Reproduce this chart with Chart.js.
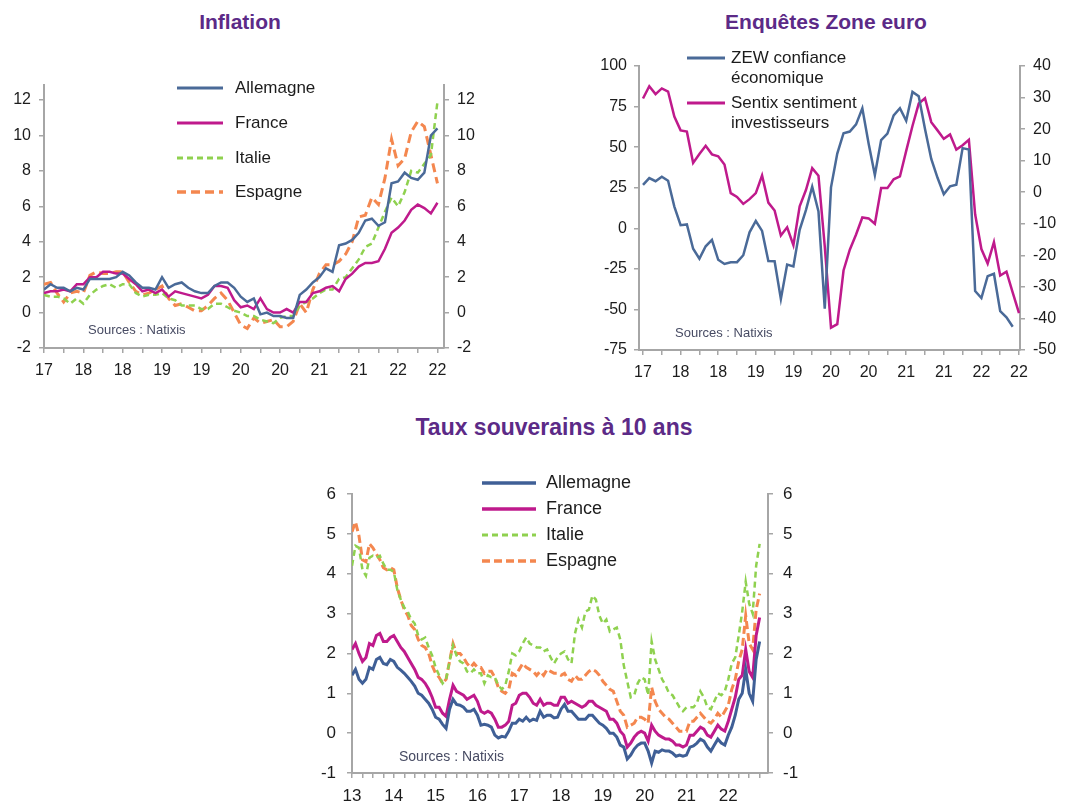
<!DOCTYPE html>
<html lang="fr">
<head>
<meta charset="UTF-8">
<title>Inflation, enquêtes et taux souverains</title>
<script src="https://cdn.jsdelivr.net/npm/chart.js@4.4.0/dist/chart.umd.min.js"></script>
<style>
  body { margin: 0; background: #fff; font-family: 'Liberation Sans', Arial, sans-serif; }
  #page { position: relative; width: 1083px; height: 803px; overflow: hidden; }
  .box { position: absolute; }
  .box canvas { position: absolute; left: 0; top: 0; }
  .title { position: absolute; font-weight: bold; color: #5c2a87; white-space: nowrap; transform: translateX(-50%); }
  .leg { position: absolute; color: #1c1c1c; }
  .leg svg { position: absolute; overflow: visible; }
  .leg span { position: absolute; }
  .src { position: absolute; color: #474b63; white-space: nowrap; }
</style>
</head>
<body>
<div id="page">
  <div class="title" style="left:240px; top:10px; font-size:21px;">Inflation</div>
  <div class="title" style="left:826px; top:10px; font-size:21px;">Enquêtes Zone euro</div>
  <div class="title" style="left:554px; top:414px; font-size:23px;">Taux souverains à 10 ans</div>

  <div class="box" style="left:0; top:0;"><canvas id="inflation" width="540" height="390"></canvas></div>
  <div class="box" style="left:540px; top:0;"><canvas id="enquetes" width="543" height="390"></canvas></div>
  <div class="box" style="left:300px; top:410px;"><canvas id="taux" width="500" height="393"></canvas></div>

  <div class="src" style="left:88px; top:322px; font-size:13px;">Sources : Natixis</div>
  <div class="src" style="left:675px; top:325px; font-size:13px;">Sources : Natixis</div>
  <div class="src" style="left:399px; top:748px; font-size:14px;">Sources : Natixis</div>

  <div id="leg1"></div>
  <div id="leg2"></div>
  <div id="leg3"></div>
</div>

<script>
// ---- Inflation, monthly, Oct 2017 -> Oct 2022 (%)
const inflTickLabels = ['17', '18', '18', '19', '19', '20', '20', '21', '21', '22', '22'];
const inflNames = ['Allemagne', 'France', 'Italie', 'Espagne'];
const inflAllemagne = [1.3, 1.6, 1.4, 1.4, 1.2, 1.4, 1.3, 1.9, 1.9, 1.9,
  1.9, 2.0, 2.3, 2.1, 1.7, 1.4, 1.4, 1.3, 2.0, 1.4,
  1.6, 1.7, 1.4, 1.2, 1.1, 1.1, 1.5, 1.7, 1.7, 1.4,
  0.9, 0.6, 0.8, -0.1, 0.0, -0.2, -0.2, -0.3, -0.3, 1.0,
  1.3, 1.7, 2.0, 2.5, 2.3, 3.8, 3.9, 4.1, 4.5, 5.2,
  5.3, 4.9, 5.1, 7.3, 7.4, 7.9, 7.6, 7.5, 7.9, 10.0, 10.4];
const inflFrance = [1.1, 1.2, 1.2, 1.3, 1.2, 1.6, 1.6, 2.0, 2.0, 2.3,
  2.3, 2.2, 2.2, 1.9, 1.6, 1.2, 1.3, 1.1, 1.3, 0.9,
  1.2, 1.1, 1.0, 0.9, 0.8, 1.0, 1.5, 1.5, 1.4, 0.7,
  0.3, 0.4, 0.2, 0.8, 0.2, 0.0, 0.0, 0.2, 0.0, 0.6,
  0.6, 1.1, 1.2, 1.4, 1.5, 1.2, 1.9, 2.2, 2.6, 2.8,
  2.8, 2.9, 3.6, 4.5, 4.8, 5.2, 5.8, 6.1, 5.9, 5.6, 6.2];
const inflItalie = [1.0, 0.9, 0.9, 0.8, 0.5, 0.8, 0.5, 1.0, 1.3, 1.5,
  1.6, 1.4, 1.6, 1.6, 1.1, 0.9, 1.0, 1.0, 1.1, 0.8,
  0.7, 0.4, 0.4, 0.4, 0.2, 0.2, 0.5, 0.5, 0.3, 0.1,
  0.0, -0.2, -0.2, -0.4, -0.5, -0.6, -0.3, -0.2, -0.2, 0.4,
  0.6, 0.8, 1.1, 1.3, 1.3, 1.9, 2.0, 2.5, 3.0, 3.7,
  3.9, 4.8, 5.7, 6.5, 6.0, 6.8, 8.0, 7.9, 8.4, 8.9, 11.9];
const inflEspagne = [1.6, 1.7, 1.1, 0.6, 1.1, 1.2, 1.1, 2.1, 2.3, 2.2,
  2.2, 2.3, 2.3, 1.7, 1.2, 1.0, 1.1, 1.3, 1.5, 0.8,
  0.4, 0.5, 0.3, 0.1, 0.1, 0.4, 0.8, 1.1, 0.7, 0.0,
  -0.7, -0.9, -0.3, -0.6, -0.5, -0.4, -0.8, -0.8, -0.5, 0.5,
  0.0, 1.3, 2.2, 2.7, 2.7, 2.9, 3.3, 4.0, 5.4, 5.5,
  6.5, 6.1, 7.6, 9.8, 8.3, 8.7, 10.2, 10.8, 10.5, 8.9, 7.3];

// ---- Enquêtes zone euro, monthly, Oct 2017 -> Oct 2022
const enqTickLabels = ['17', '18', '18', '19', '19', '20', '20', '21', '21', '22', '22'];
const enqNames = ['ZEW confiance économique', 'Sentix sentiment investisseurs'];
const zew = [26.7, 30.9, 29.0, 31.8, 29.3, 13.4, 1.9, 2.4, -12.6, -18.7,
  -11.1, -7.2, -19.4, -22.0, -21.0, -20.9, -16.6, -2.5, 4.5, -1.6,
  -20.2, -20.3, -43.6, -22.4, -23.5, -1.0, 11.2, 25.6, 10.4, -49.5,
  25.2, 46.0, 58.6, 59.6, 64.0, 73.9, 52.3, 32.8, 54.4, 58.3,
  69.6, 74.0, 66.3, 84.0, 81.3, 61.2, 42.7, 31.1, 21.0, 25.9,
  26.8, 49.4, 48.6, -38.7, -43.0, -29.5, -28.0, -51.1, -54.9, -60.7, null];
const sentix = [29.7, 33.6, 31.1, 32.9, 31.9, 24.0, 19.6, 19.2, 9.3, 12.1,
  14.7, 12.0, 11.4, 8.8, -0.3, -1.5, -3.7, -2.2, -0.3, 5.3,
  -3.3, -5.8, -13.7, -11.1, -16.8, -4.5, 0.7, 7.6, 5.2, -17.1,
  -42.9, -41.8, -24.8, -18.2, -13.4, -8.0, -8.3, -10.0, 1.3, 1.3,
  4.1, 5.0, 13.1, 21.0, 28.1, 29.8, 22.2, 19.6, 16.9, 18.3,
  13.5, 14.9, 16.6, -7.0, -18.0, -22.6, -15.8, -26.4, -25.2, -31.8, -38.3];

// ---- Taux 10 ans, monthly, Jan 2013 -> Oct 2022 (%)
const tauxTickLabels = ['13', '14', '15', '16', '17', '18', '19', '20', '21', '22'];
const tauxNames = ['Allemagne', 'France', 'Italie', 'Espagne'];
const tauxAllemagne = [
  1.45, 1.60, 1.35, 1.25, 1.35, 1.65, 1.60, 1.85, 1.90, 1.75, 1.72, 1.85,
  1.80, 1.65, 1.58, 1.50, 1.40, 1.30, 1.18, 1.00, 0.95, 0.85, 0.75, 0.60,
  0.40, 0.35, 0.22, 0.12, 0.60, 0.85, 0.72, 0.70, 0.65, 0.55, 0.55, 0.60,
  0.45, 0.20, 0.22, 0.20, 0.15, -0.05, -0.12, -0.08, -0.10, 0.05, 0.25, 0.25,
  0.35, 0.30, 0.40, 0.30, 0.35, 0.32, 0.55, 0.40, 0.45, 0.45, 0.38, 0.40,
  0.60, 0.72, 0.55, 0.55, 0.45, 0.35, 0.35, 0.35, 0.45, 0.45, 0.35, 0.25,
  0.20, 0.12, 0.00, 0.00, -0.10, -0.30, -0.35, -0.65, -0.55, -0.40, -0.30, -0.25,
  -0.25, -0.45, -0.75, -0.45, -0.48, -0.42, -0.45, -0.45, -0.50, -0.58, -0.55, -0.58,
  -0.55, -0.35, -0.32, -0.25, -0.15, -0.20, -0.35, -0.45, -0.30, -0.15, -0.25, -0.30,
  -0.05, 0.15, 0.45, 0.85, 1.00, 1.60, 1.00, 0.80, 1.85, 2.30];
const tauxFrance = [
  2.10, 2.25, 2.00, 1.80, 1.90, 2.25, 2.20, 2.45, 2.50, 2.30, 2.30, 2.40,
  2.45, 2.30, 2.15, 2.05, 1.90, 1.75, 1.60, 1.40, 1.35, 1.25, 1.10, 0.90,
  0.65, 0.65, 0.50, 0.42, 0.85, 1.20, 1.05, 1.00, 0.95, 0.85, 0.90, 0.95,
  0.80, 0.55, 0.50, 0.55, 0.50, 0.35, 0.15, 0.15, 0.20, 0.30, 0.70, 0.75,
  0.95, 1.00, 1.00, 0.90, 0.75, 0.70, 0.85, 0.70, 0.75, 0.75, 0.70, 0.70,
  0.90, 0.90, 0.75, 0.80, 0.75, 0.70, 0.65, 0.70, 0.80, 0.80, 0.70, 0.65,
  0.60, 0.55, 0.35, 0.35, 0.25, 0.05, -0.05, -0.35, -0.25, -0.10, 0.00, 0.05,
  0.00, -0.20, 0.20, 0.05, -0.05, -0.10, -0.15, -0.15, -0.20, -0.30, -0.30, -0.35,
  -0.30, -0.05, -0.05, 0.05, 0.15, 0.10, -0.05, -0.10, 0.05, 0.20, 0.10, 0.05,
  0.30, 0.60, 0.90, 1.35, 1.45, 2.10, 1.55, 1.40, 2.45, 2.90];
const tauxItalie = [
  4.20, 4.70, 4.65, 4.10, 3.95, 4.40, 4.45, 4.40, 4.45, 4.25, 4.10, 4.10,
  4.05, 3.60, 3.35, 3.15, 3.05, 2.85, 2.75, 2.45, 2.35, 2.40, 2.15, 1.95,
  1.65, 1.45, 1.25, 1.35, 1.80, 2.20, 1.95, 1.80, 1.75, 1.55, 1.50, 1.60,
  1.50, 1.50, 1.25, 1.45, 1.40, 1.40, 1.20, 1.10, 1.20, 1.55, 2.00, 1.95,
  2.05, 2.25, 2.40, 2.25, 2.20, 2.15, 2.15, 2.05, 2.10, 1.90, 1.75, 1.90,
  2.00, 2.05, 1.85, 1.75, 2.50, 2.85, 2.65, 3.05, 3.10, 3.45, 3.35, 2.95,
  2.75, 2.85, 2.55, 2.60, 2.65, 2.35, 1.70, 1.30, 0.90, 0.95, 1.25, 1.40,
  1.35, 0.95, 2.30, 1.85, 1.60, 1.35, 1.20, 1.00, 0.95, 0.80, 0.65, 0.55,
  0.65, 0.65, 0.65, 0.75, 1.05, 0.90, 0.65, 0.60, 0.80, 1.00, 0.95, 1.05,
  1.35, 1.75, 1.90, 2.45, 3.05, 3.80, 3.25, 3.00, 4.20, 4.75];
const tauxEspagne = [
  5.05, 5.30, 4.95, 4.35, 4.30, 4.75, 4.65, 4.50, 4.35, 4.15, 4.10, 4.15,
  4.10, 3.65, 3.35, 3.10, 2.95, 2.70, 2.60, 2.35, 2.20, 2.15, 2.00, 1.70,
  1.50, 1.40, 1.25, 1.35, 1.80, 2.25, 2.00, 2.00, 1.90, 1.75, 1.65, 1.75,
  1.65, 1.65, 1.50, 1.55, 1.55, 1.40, 1.15, 1.05, 1.00, 1.10, 1.50, 1.45,
  1.60, 1.75, 1.65, 1.60, 1.55, 1.45, 1.55, 1.45, 1.60, 1.55, 1.50, 1.50,
  1.45, 1.50, 1.35, 1.30, 1.45, 1.35, 1.35, 1.45, 1.55, 1.60, 1.55, 1.45,
  1.30, 1.20, 1.10, 1.05, 0.80, 0.55, 0.45, 0.15, 0.20, 0.25, 0.40, 0.40,
  0.35, 0.25, 1.15, 0.80, 0.60, 0.50, 0.40, 0.35, 0.25, 0.15, 0.05, 0.05,
  0.05, 0.30, 0.30, 0.40, 0.50, 0.40, 0.30, 0.25, 0.35, 0.50, 0.40, 0.55,
  0.70, 1.10, 1.35, 1.80, 2.10, 2.95, 2.25, 2.10, 3.10, 3.50];

const FONT = "'Liberation Sans', Arial, sans-serif";
const AXIS = '#a6a6a6';
const BLUE = '#4a6a98', MAGENTA = '#bf1a8c', GREEN = '#8fd14f', ORANGE = '#f4874f';

function steps(a, b, s) {
  const out = [];
  for (let v = a; v <= b + 1e-9; v += s) out.push(Math.round(v * 100) / 100);
  return out;
}
function fixTicks(list) {
  return scale => { scale.ticks = list.map(v => ({ value: v })); };
}
function yAxis(pos, min, max, ticks, width, size, pad) {
  return {
    type: 'linear', display: true, position: pos, min: min, max: max,
    afterBuildTicks: fixTicks(ticks),
    afterFit: s => { s.width = width; },
    border: { display: true, color: AXIS, width: 2 },
    grid: { display: true, drawOnChartArea: false, drawTicks: true, tickLength: 5, color: AXIS, lineWidth: 1.5 },
    ticks: { autoSkip: false, padding: pad, color: '#1c1c1c', font: { family: FONT, size: size } }
  };
}
function xAxis(min, max, ticks, every, labels, height, size) {
  return {
    type: 'linear', position: 'bottom', min: min, max: max,
    afterBuildTicks: fixTicks(ticks),
    afterFit: s => { s.height = height; },
    border: { display: true, color: AXIS, width: 2 },
    grid: { display: true, drawOnChartArea: false, drawTicks: true, tickLength: 5, color: AXIS, lineWidth: 1.5 },
    ticks: {
      autoSkip: false, maxRotation: 0, padding: 8, color: '#1c1c1c', font: { family: FONT, size: size },
      callback: v => (v % every === 0 && labels[v / every] !== undefined) ? labels[v / every] : ''
    }
  };
}
function serie(label, values, color, width, dash, axis) {
  return {
    label: label,
    data: values.map((v, i) => ({ x: i, y: v })),
    borderColor: color, backgroundColor: color, borderWidth: width,
    borderDash: dash, pointRadius: 0, tension: 0, fill: false,
    yAxisID: axis || 'y'
  };
}
function baseOptions(top, scales) {
  return {
    responsive: false, animation: false, events: [],
    layout: { padding: { top: top, left: 0, right: 0, bottom: 0 } },
    plugins: { legend: { display: false }, tooltip: { enabled: false } },
    scales: scales
  };
}

// Inflation
const inflStyle = [
  [BLUE, 2.5, []], [MAGENTA, 2.5, []], [GREEN, 2.5, [6, 4]], [ORANGE, 3, [9, 5]]
];
const inflData = [inflAllemagne, inflFrance, inflItalie, inflEspagne];
new Chart(document.getElementById('inflation'), {
  type: 'line',
  data: { datasets: inflNames.map((n, k) => serie(n, inflData[k], inflStyle[k][0], inflStyle[k][1], inflStyle[k][2])) },
  options: baseOptions(85, {
    x: xAxis(0, 61, steps(0, 60, 3), 6, inflTickLabels, 42, 16),
    y: yAxis('left', -2, 12.85, steps(-2, 12, 2), 44, 16, 8),
    y1: yAxis('right', -2, 12.85, steps(-2, 12, 2), 96, 16, 8)
  })
});

// Enquetes
const enqStyle = [[BLUE, 2.5, []], [MAGENTA, 2.5, []]];
new Chart(document.getElementById('enquetes'), {
  type: 'line',
  data: { datasets: [
    serie(enqNames[0], zew, BLUE, 2.5, [], 'y'),
    serie(enqNames[1], sentix, MAGENTA, 2.5, [], 'y1')
  ] },
  options: baseOptions(66, {
    x: xAxis(-0.64, 60.16, steps(0, 60, 3), 6, enqTickLabels, 40, 16),
    y: yAxis('left', -75, 100, steps(-75, 100, 25), 99, 16, 7),
    y1: yAxis('right', -50, 40, steps(-50, 40, 10), 63, 16, 8)
  })
});

// Taux souverains
const tauxStyle = [
  ['#3f5f96', 3, []], [MAGENTA, 3, []], [GREEN, 2.5, [6, 4]], [ORANGE, 3, [8, 4]]
];
const tauxData = [tauxAllemagne, tauxFrance, tauxItalie, tauxEspagne];
new Chart(document.getElementById('taux'), {
  type: 'line',
  data: { datasets: tauxNames.map((n, k) => serie(n, tauxData[k], tauxStyle[k][0], tauxStyle[k][1], tauxStyle[k][2])) },
  options: baseOptions(84, {
    x: xAxis(0, 119.4, steps(0, 117, 3), 12, tauxTickLabels, 30, 17),
    y: yAxis('left', -1, 6, steps(-1, 6, 1), 52, 17, 11),
    y1: yAxis('right', -1, 6, steps(-1, 6, 1), 32, 17, 10)
  })
});

// HTML legends
function legend(id, names, styles, x0, len, textX, rows, size, wrap) {
  const host = document.getElementById(id);
  names.forEach((n, k) => {
    const [color, width, dash] = styles[k];
    const y = rows[k];
    const d = document.createElement('div');
    d.className = 'leg';
    d.style.left = '0px'; d.style.top = '0px';
    d.innerHTML =
      '<svg style="left:' + x0 + 'px; top:' + y + 'px;" width="' + len + '" height="1">' +
      '<line x1="0" y1="0" x2="' + len + '" y2="0" stroke="' + color + '" stroke-width="' + (width + 0.5) +
      '" stroke-dasharray="' + dash.join(',') + '"/></svg>' +
      '<span style="left:' + textX + 'px; top:' + (y - size * 0.6) + 'px; font-size:' + size + 'px; line-height:' +
      (size * 1.18) + 'px;' + (wrap ? ' width:' + wrap + 'px;' : ' white-space:nowrap;') + '">' + n + '</span>';
    host.appendChild(d);
  });
}
legend('leg1', inflNames, inflStyle, 177, 46, 235, [88, 123, 158, 192], 17);
legend('leg2', enqNames, enqStyle, 687, 38, 731, [58, 103], 17, 135);
legend('leg3', tauxNames, tauxStyle, 482, 54, 546, [483, 509, 535, 561], 18);
</script>
</body>
</html>
